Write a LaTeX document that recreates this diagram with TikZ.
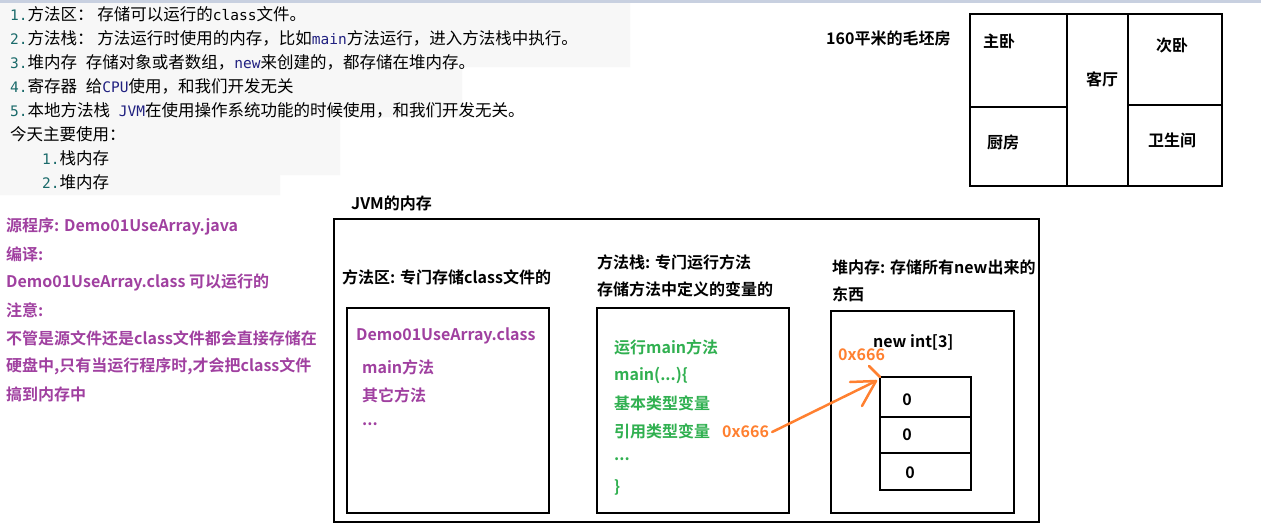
\documentclass[tikz,border=0pt]{standalone}
\usepackage{fontspec}
\setmainfont{Noto Sans CJK SC}
\newfontfamily\cjkb{Noto Sans CJK SC Bold}
\newfontfamily\monof{DejaVu Sans Mono}
\newcommand{\mn}[1]{{\monof\fontsize{14.5}{15}\selectfont #1}}
\usetikzlibrary{arrows.meta}
\definecolor{pur}{HTML}{A040A0}
\definecolor{grn}{HTML}{30B050}
\definecolor{org}{HTML}{FF8030}
\definecolor{bg}{HTML}{F7F7F7}
\definecolor{num}{HTML}{1A6A6A}
\definecolor{kw}{HTML}{202080}
\definecolor{topbar}{HTML}{C8D0E0}
\tikzset{
  pl/.style={anchor=west,inner sep=0pt,font=\fontsize{16.5}{17}\selectfont},
  bl/.style={anchor=west,inner sep=0pt,font=\cjkb\fontsize{16}{17}\selectfont},
  box/.style={draw,line width=2.5pt},
}
\begin{document}
\begin{tikzpicture}[x=1pt,y=-1pt]
\useasboundingbox (0,0) rectangle (1261,525);
\fill[white] (0,0) rectangle (1261,525);
\fill[bg] (0,0) -- (630,0) -- (630,67) -- (462,67) -- (462,117) -- (340,117) -- (340,175) -- (280,175) -- (280,195) -- (0,195) -- cycle;
\fill[topbar] (0,0) rectangle (1261,3);
% top notes
\node[pl] (t1) at (10,14) {\textcolor{num}{\mn{1.}}方法区： 存储可以运行的\mn{class}文件。};
\node[pl] (t2) at (10,38) {\textcolor{num}{\mn{2.}}方法栈： 方法运行时使用的内存，比如\textcolor{kw}{\mn{main}}方法运行，进入方法栈中执行。};
\node[pl] (t3) at (10,62) {\textcolor{num}{\mn{3.}}堆内存\mn{ }存储对象或者数组，\textcolor{kw}{\mn{new}}来创建的，都存储在堆内存。};
\node[pl] (t4) at (10,86) {\textcolor{num}{\mn{4.}}寄存器\mn{ }给\textcolor{kw}{\mn{CPU}}使用，和我们开发无关};
\node[pl] (t5) at (10,110) {\textcolor{num}{\mn{5.}}本地方法栈\mn{ }\textcolor{kw}{\mn{JVM}}在使用操作系统功能的时候使用，和我们开发无关。};
\node[pl] (t6) at (10,134) {今天主要使用：};
\node[pl] (t7) at (42,158) {\textcolor{num}{\mn{1.}}栈内存};
\node[pl] (t8) at (42,182) {\textcolor{num}{\mn{2.}}堆内存};
% left purple
\begin{scope}[every node/.style={bl,text=pur}]
\node (p1) at (6,226) {源程序: Demo01UseArray.java};
\node (p2) at (6,254) {编译:};
\node (p3) at (6,282) {Demo01UseArray.class 可以运行的};
\node (p4) at (6,310) {注意:};
\node (p5) at (6,338) {不管是源文件还是class文件都会直接存储在};
\node (p6) at (6,366) {硬盘中,只有当运行程序时,才会把class文件};
\node (p7) at (6,394) {搞到内存中};
\end{scope}
% floor plan
\node[bl] (house) at (826,38) {160平米的毛坯房};
\draw[box] (970,14) rectangle (1222,186);
\draw[box] (1067,14) -- (1067,186) (1128,14) -- (1128,186);
\draw[box] (970,107) -- (1067,107) (1128,105) -- (1222,105);
\node[bl,anchor=center] (r1) at (999,41) {主卧};
\node[bl,anchor=center] (r2) at (1172,45) {次卧};
\node[bl,anchor=center] (r3) at (1102,79) {客厅};
\node[bl,anchor=center] (r4) at (1003,142) {厨房};
\node[bl,anchor=center] (r5) at (1172,140) {卫生间};
% JVM
\node[bl] (jvm) at (351,203) {JVM的内存};
\draw[box] (334,219) rectangle (1039,522);
\node[bl] (h1) at (342,277) {方法区: 专门存储class文件的};
\node[bl] (h2) at (597,262) {方法栈: 专门运行方法};
\node[bl] (h2b) at (597,289) {存储方法中定义的变量的};
\node[bl] (h3) at (832,267) {堆内存: 存储所有new出来的};
\node[bl] (h3b) at (832,294) {东西};
\draw[box] (347,308) rectangle (549,513);
\draw[box] (597,308) rectangle (789,513);
\draw[box] (831,311) rectangle (1014,513);
\begin{scope}[every node/.style={bl,text=pur}]
\node (m1) at (356,336) {Demo01UseArray.class};
\node (m2) at (362,367) {main方法};
\node (m3) at (362,395) {其它方法};
\node (m4) at (362,424) {...};
\end{scope}
\begin{scope}[every node/.style={bl,text=grn}]
\node (s1) at (614,347) {运行main方法};
\node (s2) at (614,375) {main(...)\{};
\node (s3) at (614,403) {基本类型变量};
\node (s4) at (614,431) {引用类型变量};
\node (s5) at (614,459) {...};
\node (s6) at (614,487) {\}};
\end{scope}
\node[bl] (arr) at (873,342) {new int[3]};
\node[bl,text=org] (addr2) at (838,355) {0x666};
\draw[box] (880,377) rectangle (971,490);
\draw[box] (880,417) -- (971,417) (880,453) -- (971,453);
\node[bl,anchor=center] (c1) at (907,400) {0};
\node[bl,anchor=center] (c2) at (907,435) {0};
\node[bl,anchor=center] (c3) at (910,473) {0};
\node[bl,text=org] (addr1) at (722,432) {0x666};
\coordinate (tip) at (876,381);
\draw[org,line width=2.5pt,line cap=round] (addr1.east) ++(3,0) -- (tip);
\draw[org,line width=2.5pt,line cap=round] (tip) -- (850,382) (tip) -- (862,406) (869,366) -- (880,377);
\end{tikzpicture}
\end{document}
